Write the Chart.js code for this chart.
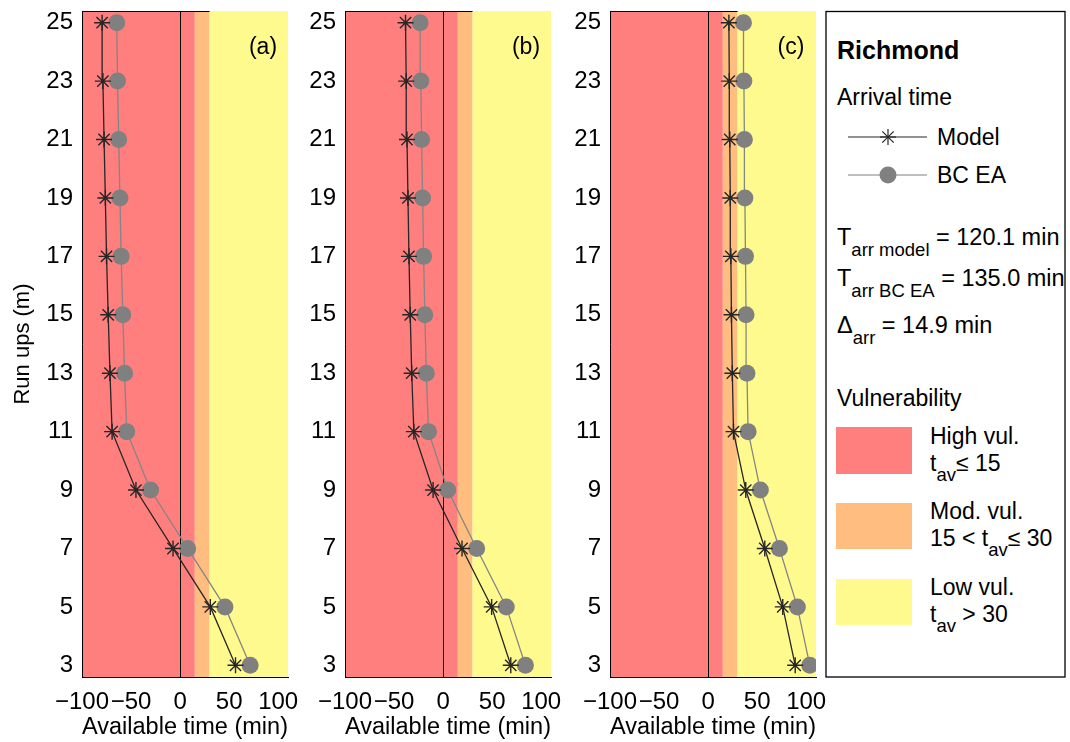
<!DOCTYPE html>
<html>
<head>
<meta charset="utf-8">
<script src="https://cdn.jsdelivr.net/npm/chart.js@4.4.1/dist/chart.umd.min.js"></script>
<style>
  html, body { margin: 0; padding: 0; background: #fff; }
  body { width: 1070px; height: 742px; position: relative; overflow: hidden; }
  .panel { position: absolute; top: 0; }
  #key { position: absolute; left: 0; top: 0; }
  #key text { font-family: "Liberation Sans", Arial, Helvetica, sans-serif; fill: #000; }
</style>
</head>
<body>
<canvas class="panel" id="panelA" width="308" height="742" style="left:0px"></canvas>
<canvas class="panel" id="panelB" width="308" height="742" style="left:263px"></canvas>
<canvas class="panel" id="panelC" width="308" height="742" style="left:528px"></canvas>

<svg id="key" width="1070" height="742">
  <rect x="826" y="11.5" width="239" height="665.5" fill="#fff" stroke="#000" stroke-width="1.3"/>
  <text x="837" y="59" font-size="25" font-weight="bold">Richmond</text>
  <text x="837" y="105" font-size="23">Arrival time</text>

  <line x1="848" y1="137" x2="927" y2="137" stroke="#262626" stroke-width="1.2"/>
  <g stroke="#262626" stroke-width="1.2">
    <line x1="880" y1="137" x2="896" y2="137"/>
    <line x1="888" y1="129" x2="888" y2="145"/>
    <line x1="882.3" y1="131.3" x2="893.7" y2="142.7"/>
    <line x1="882.3" y1="142.7" x2="893.7" y2="131.3"/>
  </g>
  <text x="937" y="145" font-size="23">Model</text>

  <line x1="848" y1="175" x2="927" y2="175" stroke="#808080" stroke-width="1.2"/>
  <circle cx="888" cy="175" r="8.5" fill="#808080"/>
  <text x="937" y="183" font-size="23">BC EA</text>

  <text x="837" y="245" font-size="23.5">T<tspan font-size="18.5" dy="11">arr model</tspan><tspan dy="-11"> = 120.1 min</tspan></text>
  <text x="837" y="286" font-size="23.5">T<tspan font-size="18.5" dy="11">arr BC EA</tspan><tspan dy="-11"> = 135.0 min</tspan></text>
  <text x="837" y="333" font-size="23.5">Δ<tspan font-size="18.5" dy="11">arr</tspan><tspan dy="-11"> = 14.9 min</tspan></text>

  <text x="837" y="406" font-size="23">Vulnerability</text>

  <rect x="836" y="427" width="76" height="47" fill="#FF7F7F"/>
  <text x="930" y="444" font-size="23">High vul.</text>
  <text x="930" y="471" font-size="23">t<tspan font-size="18.5" dy="10">av</tspan><tspan dy="-10">≤ 15</tspan></text>

  <rect x="836" y="503" width="76" height="46" fill="#FFBE80"/>
  <text x="930" y="519" font-size="23">Mod. vul.</text>
  <text x="930" y="546" font-size="23">15 &lt; t<tspan font-size="18.5" dy="10">av</tspan><tspan dy="-10">≤ 30</tspan></text>

  <rect x="836" y="579" width="76" height="46" fill="#FFFA8E"/>
  <text x="930" y="595" font-size="23">Low vul.</text>
  <text x="930" y="622" font-size="23">t<tspan font-size="18.5" dy="10">av</tspan><tspan dy="-10"> &gt; 30</tspan></text>
</svg>

<script>
// Run-up heights (m) and available time (min) for each scenario panel
const runUps = [3, 5, 7, 9, 11, 13, 15, 17, 19, 21, 23, 25];

const modelA = [56.5, 30.8, -7.2, -45.0, -69.3, -71.5, -73.3, -75.0, -76.2, -77.5, -78.7, -79.5];
const bcEaA  = [71.4, 45.7,  7.7, -30.1, -54.4, -56.6, -58.4, -60.1, -61.3, -62.6, -63.8, -64.6];

const modelB = [69.0, 49.5, 19.3, -10.2, -29.8, -32.0, -33.5, -34.8, -35.8, -36.8, -37.6, -38.3];
const bcEaB  = [83.9, 64.4, 34.2,   4.7, -14.9, -17.1, -18.6, -19.9, -20.9, -21.9, -22.7, -23.4];

const modelC = [88.8, 76.1, 57.8, 38.4, 25.9, 24.7, 23.8, 23.2, 22.6, 22.1, 21.6, 21.2];
const bcEaC  = [103.7, 91.0, 72.7, 53.3, 40.8, 39.6, 38.7, 38.1, 37.5, 37.0, 36.5, 36.1];

const panelLabels = ['(a)', '(b)', '(c)'];

// Vulnerability thresholds on available time (min)
const vulLimits = [15, 30];

const xTickValues = [-100, -50, 0, 50, 100];
const yTickValues = [3, 5, 7, 9, 11, 13, 15, 17, 19, 21, 23, 25];

// Styling
const FONT = '"Liberation Sans", Arial, Helvetica, sans-serif';
const bandColors = ['#FF7F7F', '#FFBE80', '#FFFA8E'];
const X_MIN = -100, X_MAX = 110, Y_MIN = 2.6, Y_MAX = 25.4;

const bandsPlugin = {
  id: 'vulBands',
  beforeDraw(chart) {
    const { ctx, chartArea: a, scales: { x } } = chart;
    const edges = [x.min, ...vulLimits, x.max];
    ctx.save();
    for (let i = 0; i < edges.length - 1; i++) {
      const p0 = x.getPixelForValue(edges[i]);
      const p1 = x.getPixelForValue(edges[i + 1]);
      ctx.fillStyle = bandColors[i];
      ctx.fillRect(p0, a.top, p1 - p0, a.bottom - a.top);
    }
    ctx.restore();
  },
  beforeDatasetsDraw(chart, args, opts) {
    const { ctx, chartArea: a, scales: { x } } = chart;
    ctx.save();
    ctx.strokeStyle = '#000';
    ctx.lineWidth = 1;
    // zero line
    const z = Math.round(x.getPixelForValue(0)) + 0.5;
    ctx.beginPath();
    ctx.moveTo(z, a.top);
    ctx.lineTo(z, a.bottom);
    ctx.stroke();
    // upper edge over the high / moderate bands
    const t = Math.round(a.top) + 0.5;
    ctx.beginPath();
    ctx.moveTo(a.left, t);
    ctx.lineTo(x.getPixelForValue(vulLimits[vulLimits.length - 1]), t);
    ctx.stroke();
    // panel letter
    ctx.fillStyle = '#000';
    ctx.font = '23px ' + FONT;
    ctx.textAlign = 'center';
    ctx.textBaseline = 'middle';
    ctx.fillText(opts.label, a.right - 25, a.top + 37);
    ctx.restore();
  }
};

function fmtTick(v) {
  return v < 0 ? '\u2212' + Math.abs(v) : String(v);
}

function makePanel(canvasId, model, bcEa, label, showYTitle) {
  const pts = vals => vals.map((v, i) => ({ x: v, y: runUps[i] }));
  return new Chart(document.getElementById(canvasId), {
    type: 'line',
    data: {
      datasets: [
        {
          label: 'BC EA',
          data: pts(bcEa),
          borderColor: '#858585',
          borderWidth: 1.3,
          backgroundColor: '#808080',
          pointStyle: 'circle',
          pointRadius: 8.5,
          pointBorderWidth: 0,
          pointBackgroundColor: '#808080',
          tension: 0,
          order: 2
        },
        {
          label: 'Model',
          data: pts(model),
          borderColor: '#262626',
          borderWidth: 1.3,
          pointStyle: 'star',
          pointRadius: 8,
          pointBorderWidth: 1.4,
          pointBorderColor: '#262626',
          pointBackgroundColor: '#262626',
          tension: 0,
          order: 1
        }
      ]
    },
    options: {
      responsive: false,
      animation: false,
      devicePixelRatio: 1,
      layout: { padding: { top: 11, right: 20, bottom: 0, left: 0 } },
      plugins: {
        legend: { display: false },
        tooltip: { enabled: false },
        vulBands: { label: label }
      },
      scales: {
        x: {
          type: 'linear',
          min: X_MIN,
          max: X_MAX,
          afterBuildTicks: s => { s.ticks = xTickValues.map(v => ({ value: v })); },
          afterFit: s => { s.height = 65; s.paddingLeft = 0; s.paddingRight = 0; },
          grid: { display: false, drawTicks: false },
          border: { display: true, color: '#000', width: 1 },
          ticks: {
            autoSkip: false, maxRotation: 0, minRotation: 0,
            padding: 11, color: '#000',
            font: { size: 24, family: FONT },
            callback: v => fmtTick(v)
          },
          title: {
            display: true, text: 'Available time (min)', color: '#000',
            font: { size: 23.5, family: FONT }, padding: { top: 0, bottom: 0 }
          }
        },
        y: {
          type: 'linear',
          min: Y_MIN,
          max: Y_MAX,
          afterBuildTicks: s => { s.ticks = yTickValues.map(v => ({ value: v })); },
          afterFit: s => { s.width = 82; s.paddingTop = 0; s.paddingBottom = 0; },
          grid: { display: false, drawTicks: false },
          border: { display: true, color: '#000', width: 1 },
          ticks: {
            autoSkip: false, padding: 9, color: '#000',
            font: { size: 24, family: FONT },
            callback: v => fmtTick(v)
          },
          title: {
            display: showYTitle, text: 'Run ups (m)', color: '#000',
            font: { size: 22, family: FONT }, padding: { top: 10, bottom: 0 }
          }
        }
      }
    },
    plugins: [bandsPlugin]
  });
}

makePanel('panelA', modelA, bcEaA, panelLabels[0], true);
makePanel('panelB', modelB, bcEaB, panelLabels[1], false);
makePanel('panelC', modelC, bcEaC, panelLabels[2], false);
</script>
</body>
</html>
